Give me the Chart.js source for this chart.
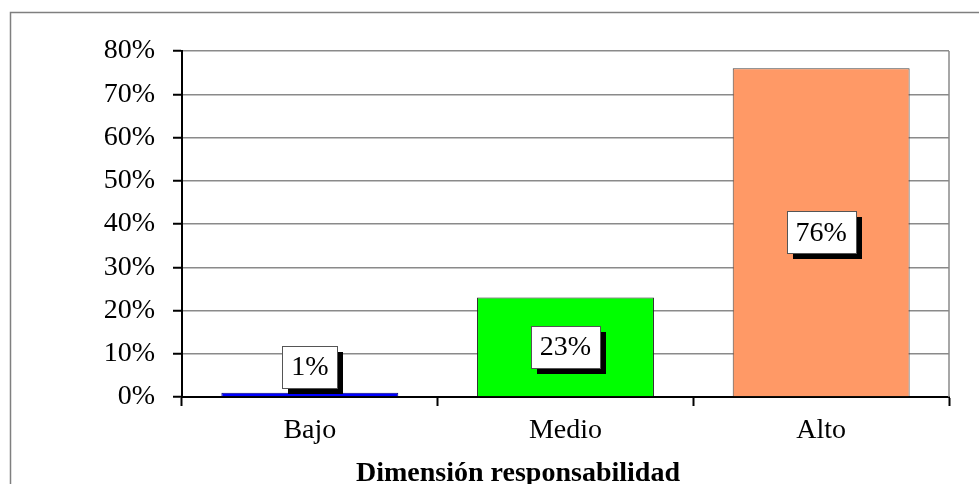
<!DOCTYPE html>
<html>
<head>
<meta charset="utf-8">
<script src="https://cdn.jsdelivr.net/npm/chart.js@4/dist/chart.umd.min.js"></script>
<style>
  html, body { margin: 0; padding: 0; background: #fff; }
  #wrap { width: 979px; height: 484px; }
</style>
</head>
<body>
<div id="wrap"><canvas id="grafico" width="979" height="484"></canvas></div>
<script>
  /* datos del grafico */
  var categorias = ['Bajo', 'Medio', 'Alto'];
  var porcentajes = [1, 23, 76];
  var colores = ['#0000ff', '#00ff00', '#ff9966'];
  var bordes = ['#000080', '#222222', '#444444'];
  var tituloEje = 'Dimensión responsabilidad';
  var fuente = '"Liberation Serif", "Times New Roman", serif';

  /* marco exterior y titulo del eje */
  var marcoPlugin = {
    id: 'marco',
    beforeDraw: function(chart){
      var ctx = chart.ctx;
      ctx.save();
      ctx.fillStyle = '#fff';
      ctx.fillRect(0, 0, chart.width, chart.height);
      ctx.strokeStyle = '#7f7f7f';
      ctx.lineWidth = 1.5;
      ctx.beginPath();
      ctx.moveTo(10.5, chart.height);
      ctx.lineTo(10.5, 12.5);
      ctx.lineTo(chart.width, 12.5);
      ctx.stroke();
      ctx.restore();
    },
    afterDraw: function(chart){
      var ctx = chart.ctx, area = chart.chartArea;
      ctx.save();
      /* borde derecho del area de trazado */
      ctx.strokeStyle = '#8a8a8a';
      ctx.lineWidth = 1.5;
      ctx.beginPath();
      ctx.moveTo(area.right, area.top);
      ctx.lineTo(area.right, area.bottom);
      ctx.stroke();
      ctx.fillStyle = '#000';
      ctx.font = 'bold 28px ' + fuente;
      ctx.textAlign = 'center';
      ctx.textBaseline = 'alphabetic';
      ctx.fillText(tituloEje, 518, 481);
      ctx.restore();
    }
  };

  /* etiquetas de datos con caja y sombra */
  var etiquetasPlugin = {
    id: 'etiquetas',
    afterDatasetsDraw: function(chart){
      var ctx = chart.ctx, meta = chart.getDatasetMeta(0), i, bar, txt, tw, w, h, cx, cy, x0, y0;
      ctx.save();
      ctx.font = '28px ' + fuente;
      for(i = 0; i < meta.data.length; i++){
        bar = meta.data[i];
        txt = porcentajes[i] + '%';
        tw = ctx.measureText(txt).width;
        w = Math.round(tw + 18);
        h = 42;
        cx = bar.x;
        /* centrada en la barra, o encima si la barra es muy baja */
        if(bar.base - bar.y > h + 10){
          cy = (bar.y + bar.base) / 2;
        } else {
          cy = bar.y - h / 2 - 5;
        }
        x0 = Math.round(cx - w / 2);
        y0 = Math.round(cy - h / 2);
        ctx.fillStyle = '#000';
        ctx.fillRect(x0 + 6, y0 + 6, w, h);
        ctx.fillStyle = '#fff';
        ctx.fillRect(x0, y0, w, h);
        ctx.strokeStyle = '#555';
        ctx.lineWidth = 1;
        ctx.strokeRect(x0 + 0.5, y0 + 0.5, w, h);
        ctx.fillStyle = '#000';
        ctx.textAlign = 'center';
        ctx.textBaseline = 'middle';
        ctx.fillText(txt, cx, cy + 1);
      }
      ctx.restore();
    }
  };

  new Chart(document.getElementById('grafico'), {
    type: 'bar',
    data: {
      labels: categorias,
      datasets: [{
        data: porcentajes,
        backgroundColor: colores,
        borderColor: bordes,
        borderWidth: 1,
        categoryPercentage: 1,
        barPercentage: 0.692
      }]
    },
    options: {
      responsive: false,
      animation: false,
      layout: { padding: { left: 0, top: 51, right: 30, bottom: 0 } },
      plugins: { legend: { display: false }, tooltip: { enabled: false } },
      scales: {
        y: {
          min: 0, max: 80,
          afterFit: function(scale){ scale.width = 182; },
          ticks: {
            stepSize: 10,
            color: '#000',
            padding: 18,
            font: { family: fuente, size: 28 },
            callback: function(v){ return v + '%'; }
          },
          grid: { color: '#8a8a8a', lineWidth: 1.5, tickColor: '#000', tickLength: 9, tickWidth: 2 },
          border: { color: '#000', width: 2 }
        },
        x: {
          afterFit: function(scale){ scale.height = 87; },
          ticks: { color: '#000', padding: 8, font: { family: fuente, size: 28 } },
          grid: { drawOnChartArea: false, offset: true, tickColor: '#000', tickLength: 9, tickWidth: 2 },
          border: { color: '#000', width: 2 }
        }
      }
    },
    plugins: [marcoPlugin, etiquetasPlugin]
  });
</script>
</body>
</html>
